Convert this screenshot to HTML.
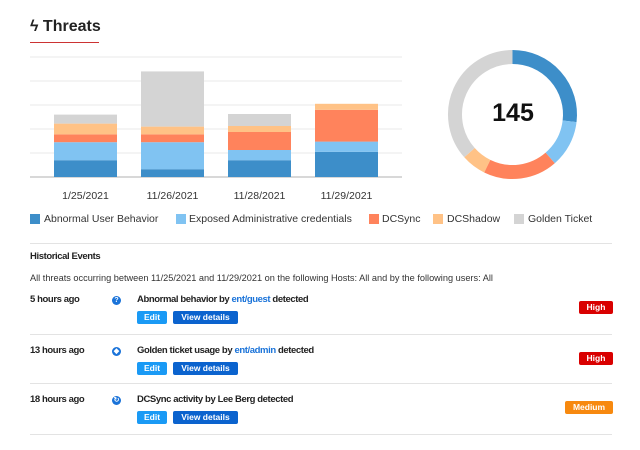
<!DOCTYPE html>
<html><head><meta charset="utf-8"><style>
body{margin:0;width:640px;height:450px;background:#fff;font-family:"Liberation Sans",sans-serif;color:#222;position:relative;overflow:hidden}
.a{position:absolute;white-space:nowrap}
.leg{font-size:10.5px;color:#333;top:213px}
.sq{position:absolute;width:10px;height:10px;top:214px}
.bt{font-size:9.5px;font-weight:bold;letter-spacing:-0.4px}
.btn{position:absolute;height:13px;font-size:8.5px;color:#fff;line-height:13px;text-align:center;border-radius:2px;font-weight:bold}
.badge{position:absolute;height:13px;font-size:8.5px;color:#fff;line-height:13px;text-align:center;border-radius:2px;font-weight:bold}
.sep{position:absolute;left:30px;width:582px;height:1px;background:#e3e3e3}
.ic{position:absolute;width:9px;height:9px;border-radius:50%;background:#1a73d9;color:#fff;font-size:7px;line-height:9px;text-align:center;font-weight:bold}
a{color:#1a73d9;text-decoration:none}
</style></head><body>
<div class="a" style="left:30px;top:18px;font-size:16px;font-weight:bold">ϟ Threats</div>
<div class="a" style="left:30px;top:42px;width:69px;height:1px;background:#c33"></div>
<svg id="chart" class="a" style="left:0;top:0" width="420" height="210"></svg>
<svg id="donut" class="a" style="left:440px;top:40px" width="150" height="150"></svg>
<div class="a" style="left:472px;top:99px;width:82px;text-align:center;font-size:25px;font-weight:bold;color:#111">145</div>

<div class="sq" style="left:30px;background:#3d8ec9"></div>
<div class="a leg" style="left:44px">Abnormal User Behavior</div>
<div class="sq" style="left:176px;background:#80c3f2"></div>
<div class="a leg" style="left:189px">Exposed Administrative credentials</div>
<div class="sq" style="left:369px;background:#ff835c"></div>
<div class="a leg" style="left:382px">DCSync</div>
<div class="sq" style="left:433px;background:#ffc286"></div>
<div class="a leg" style="left:447px">DCShadow</div>
<div class="sq" style="left:514px;background:#d4d4d4"></div>
<div class="a leg" style="left:528px">Golden Ticket</div>

<div class="sep" style="top:243px"></div>
<div class="a bt" style="left:30px;top:251px">Historical Events</div>
<div class="a" style="left:30px;top:273px;font-size:9.2px;color:#333">All threats occurring between 11/25/2021 and 11/29/2021 on the following Hosts: All and by the following users: All</div>

<div class="a bt" style="left:30px;top:294px">5 hours ago</div>
<div class="ic" style="left:112px;top:296px">?</div>
<div class="a bt" style="left:137px;top:294px">Abnormal behavior by <a>ent/guest</a> detected</div>
<div class="btn" style="left:137px;top:311px;width:30px;background:#1a9af5">Edit</div>
<div class="btn" style="left:173px;top:311px;width:65px;background:#0b63ce">View details</div>
<div class="badge" style="left:579px;top:301px;width:34px;background:#d90000">High</div>
<div class="sep" style="top:334px"></div>

<div class="a bt" style="left:30px;top:345px">13 hours ago</div>
<div class="ic" style="left:112px;top:347px">◆</div>
<div class="a bt" style="left:137px;top:345px">Golden ticket usage by <a>ent/admin</a> detected</div>
<div class="btn" style="left:137px;top:362px;width:30px;background:#1a9af5">Edit</div>
<div class="btn" style="left:173px;top:362px;width:65px;background:#0b63ce">View details</div>
<div class="badge" style="left:579px;top:352px;width:34px;background:#d90000">High</div>
<div class="sep" style="top:383px"></div>

<div class="a bt" style="left:30px;top:394px">18 hours ago</div>
<div class="ic" style="left:112px;top:396px">↻</div>
<div class="a bt" style="left:137px;top:394px">DCSync activity by Lee Berg detected</div>
<div class="btn" style="left:137px;top:411px;width:30px;background:#1a9af5">Edit</div>
<div class="btn" style="left:173px;top:411px;width:65px;background:#0b63ce">View details</div>
<div class="badge" style="left:565px;top:401px;width:48px;background:#f7890f">Medium</div>
<div class="sep" style="top:434px"></div>

<script>
const categories=["1/25/2021","11/26/2021","11/28/2021","11/29/2021"];
const seriesNames=["Abnormal User Behavior","Exposed Administrative credentials","DCSync","DCShadow","Golden Ticket"];
const abnormal=[2.8,1.3,2.8,4.2];
const exposed=[3.0,4.5,1.7,1.7];
const dcsync=[1.3,1.3,3.0,5.3];
const dcshadow=[1.8,1.3,1.0,1.0];
const golden=[1.5,9.2,2.0,0];
const yTicks=[0,4,8,12,16,20];
const donutValues=[39,17,27,9,53];
const colors=["#3d8ec9","#80c3f2","#ff835c","#ffc286","#d4d4d4"];
const NS="http://www.w3.org/2000/svg";
const svg=document.getElementById('chart');
const gx0=30,gx1=402,yB=177,yT=57,yMax=20;
const bx0=42,band=87;
const y=v=>yB-(v/yMax)*(yB-yT);
const xc=i=>bx0+band*(i+0.5);
const bw=63;
yTicks.forEach(t=>{
  const l=document.createElementNS(NS,'line');
  l.setAttribute('x1',gx0);l.setAttribute('x2',gx1);l.setAttribute('y1',y(t));l.setAttribute('y2',y(t));
  l.setAttribute('stroke',t===0?'#ccc':'#e8e8e8');l.setAttribute('stroke-width',t===0?1.5:1);
  
  
  svg.appendChild(l);
});
const series=[abnormal,exposed,dcsync,dcshadow,golden];
categories.forEach((c,i)=>{
  let acc=0;
  series.forEach((s,k)=>{
    const v=s[i]; if(v<=0)return;
    const r=document.createElementNS(NS,'rect');
    r.setAttribute('x',xc(i)-bw/2);r.setAttribute('width',bw);
    r.setAttribute('y',y(acc+v));r.setAttribute('height',y(acc)-y(acc+v));
    r.setAttribute('fill',colors[k]);
    
    
    svg.appendChild(r);acc+=v;
  });
  const t=document.createElementNS(NS,'text');
  t.setAttribute('x',xc(i));t.setAttribute('y',199);t.setAttribute('text-anchor','middle');
  t.setAttribute('font-size','10.5');t.setAttribute('fill','#333');t.textContent=c;
  
  
  svg.appendChild(t);
});
const d=document.getElementById('donut');
const cx=72.5,cy=74.5,R=57.5,total=donutValues.reduce((a,b)=>a+b,0);
let a0=0;
donutValues.forEach((v,k)=>{
  const a1=a0+v/total*2*Math.PI;
  const p=a=>[cx+R*Math.sin(a),cy-R*Math.cos(a)];
  const [sx,sy]=p(a0),[ex,ey]=p(a1);
  const path=document.createElementNS(NS,'path');
  path.setAttribute('d',`M${sx} ${sy} A${R} ${R} 0 ${a1-a0>Math.PI?1:0} 1 ${ex} ${ey}`);
  path.setAttribute('fill','none');path.setAttribute('stroke',colors[k]);path.setAttribute('stroke-width',14);
  
  
  d.appendChild(path);a0=a1;
});
</script>
</body></html>
